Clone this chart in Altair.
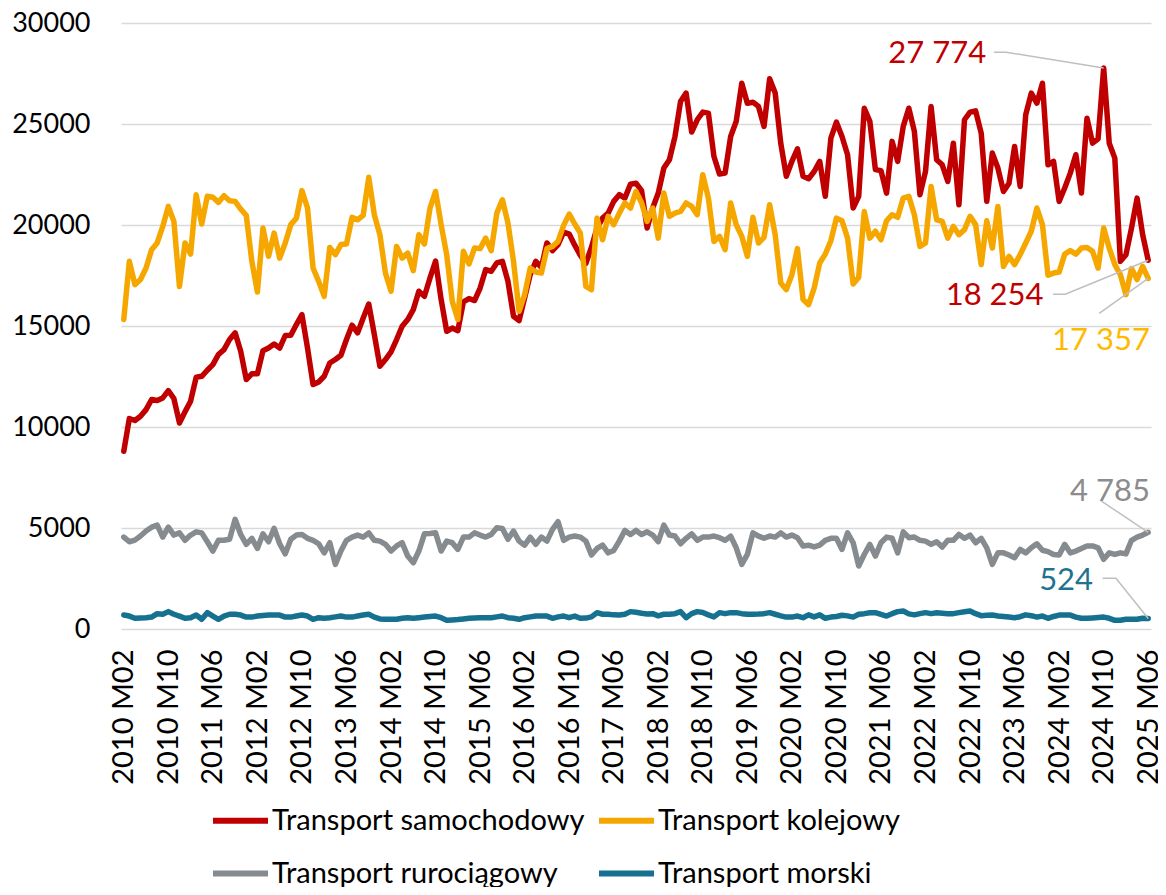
import altair as alt
import pandas as pd

# ---------------- data ----------------
samochodowy = [
    8800, 10420, 10320, 10530, 10860, 11360, 11310, 11440, 11800, 11410,
    10200, 10750, 11280, 12460, 12510, 12810, 13090, 13590, 13830, 14330,
    14660, 13750, 12350, 12630, 12630, 13780, 13910, 14110, 13910, 14530,
    14540, 15070, 15560, 13910, 12100, 12230, 12510, 13170, 13340, 13550,
    14330, 15040, 14660, 15400, 16090, 14580, 13010, 13340, 13720, 14330,
    14990, 15320, 15810, 16720, 16470, 17380, 18210, 16310, 14740, 14900,
    14770, 16200, 16360, 16260, 16880, 17790, 17710, 18120, 18200, 17210,
    15480, 15270, 16390, 17540, 18200, 17900, 19110, 18730, 19030, 19650,
    19550, 19000, 18500, 18100, 18900, 19850, 20340, 20590, 21170, 21500,
    21330, 22020, 22070, 21700, 19850, 20840, 21580, 22820, 23230, 24380,
    26110, 26530, 24600, 25210, 25590, 25540, 23390, 22520, 22570, 24380,
    25130, 27020, 26030, 26080, 25870, 24880, 27240, 26530, 24050, 22410,
    23150, 23770, 22410, 22290, 22650, 23150, 21420, 24300, 25090, 24380,
    23480, 20840, 21420, 25780, 25130, 22740, 22690, 21580, 24140, 23150,
    24880, 25780, 24630, 21500, 22650, 25870, 23230, 22980, 22160, 24050,
    21000, 25210, 25590, 25650, 24550, 21170, 23560, 22820, 21660, 22070,
    23890, 21910, 25460, 26530, 26030, 27020, 22980, 23150, 21170, 21830,
    22570, 23480, 21580, 25290, 24050, 24270, 27774, 24050, 23310, 18200,
    18530, 19850, 21330, 19520, 18254,
]
kolejowy = [
    15320, 18200, 17050, 17300, 17870, 18780, 19110, 19930, 20920, 20180,
    16960, 19110, 18560, 21500, 20050, 21420, 21370, 21120, 21450, 21200,
    21170, 20790, 20480, 18200, 16680, 19850, 18450, 19600, 18360, 19110,
    20020, 20340, 21700, 20840, 17870, 17210, 16470, 18890, 18530, 19030,
    19060, 20380, 20260, 20480, 22360, 20510, 19520, 17620, 16720, 18940,
    18360, 18610, 17740, 19520, 19060, 20840, 21660, 20020, 18530, 16220,
    15320, 18700, 18070, 18860, 18830, 19350, 18730, 20590, 21250, 20100,
    18200, 15730, 16550, 17870, 17670, 17620, 18830, 18940, 19190, 19980,
    20540, 20050, 19600, 16960, 16800, 20340, 19270, 20430, 20020, 20590,
    21090, 20840, 21660, 21100, 20180, 20840, 19350, 21580, 20430, 20590,
    20670, 21090, 20920, 20510, 22490, 21330, 19190, 19440, 18780, 21090,
    20020, 19440, 18450, 20380, 19110, 19390, 21000, 19520, 17130, 16800,
    17540, 18830, 16310, 16060, 16880, 18120, 18560, 19220, 20340, 20210,
    19350, 17080, 17410, 20670, 19350, 19690, 19270, 20210, 20510, 20380,
    21330, 21420, 20510, 18940, 19110, 21910, 20260, 20180, 19350, 19930,
    19520, 19770, 20430, 20020, 18040, 20210, 18860, 20920, 17950, 18450,
    18040, 18530, 19110, 19690, 20840, 20020, 17510, 17620, 17670, 18560,
    18730, 18560, 18860, 18890, 18700, 17870, 19850, 18860, 18040, 17540,
    16550, 17850, 17300, 17950, 17357,
]
rurociagowy = [
    4550, 4320, 4400, 4600, 4850, 5040, 5140, 4550, 5040, 4650,
    4760, 4390, 4650, 4810, 4760, 4320, 3860, 4390, 4390, 4440,
    5430, 4680, 4190, 4490, 3990, 4710, 4320, 4980, 4220, 3720,
    4440, 4650, 4680, 4490, 4390, 4220, 3770, 4270, 3200, 3860,
    4390, 4550, 4650, 4550, 4760, 4390, 4350, 4190, 3860, 4110,
    4270, 3610, 3280, 3860, 4710, 4730, 4760, 3860, 4350, 4270,
    3940, 4550, 4550, 4760, 4650, 4550, 4680, 5010, 4980, 4440,
    4850, 4350, 4150, 4550, 4190, 4550, 4350, 4930, 5310, 4390,
    4550, 4600, 4550, 4350, 3660, 3990, 4150, 3770, 3890, 4350,
    4880, 4680, 4880, 4680, 4810, 4650, 4320, 5140, 4650, 4600,
    4220, 4490, 4710, 4390, 4550, 4550, 4600, 4520, 4390, 4600,
    4020, 3200, 3690, 4760, 4600, 4490, 4600, 4550, 4760, 4550,
    4650, 4520, 4110, 4150, 4060, 4150, 4390, 4490, 4490, 3940,
    4760, 4270, 3120, 3690, 4190, 3610, 4270, 4550, 4490, 3770,
    4810, 4520, 4550, 4390, 4350, 4190, 4320, 4060, 4390, 4390,
    4680, 4490, 4650, 4270, 4490, 4020, 3200, 3770, 3770, 3660,
    3530, 3940, 3770, 4020, 4220, 3900, 3830, 3690, 3660, 4190,
    3770, 3860, 3990, 4110, 4110, 4020, 3450, 3770, 3690, 3770,
    3720, 4390, 4550, 4650, 4785,
]
morski = [
    690, 640, 530, 550, 560, 590, 760, 730, 860, 730,
    640, 530, 560, 690, 480, 810, 640, 480, 640, 730,
    730, 690, 590, 590, 640, 670, 690, 690, 690, 590,
    590, 640, 690, 640, 480, 560, 530, 560, 600, 640,
    590, 590, 640, 690, 730, 590, 500, 480, 480, 480,
    530, 560, 530, 560, 590, 620, 640, 560, 430, 450,
    470, 500, 530, 545, 560, 560, 560, 600, 640, 560,
    530, 480, 560, 600, 640, 640, 640, 530, 600, 640,
    560, 640, 530, 540, 600, 810, 730, 730, 700, 690,
    730, 860, 830, 780, 740, 760, 650, 730, 730, 760,
    860, 560, 760, 860, 820, 700, 600, 810, 760, 810,
    810, 760, 730, 730, 740, 760, 810, 730, 650, 590,
    590, 640, 560, 700, 600, 700, 530, 590, 620, 680,
    650, 590, 730, 760, 800, 810, 720, 640, 760, 860,
    890, 750, 700, 760, 810, 760, 800, 780, 760, 760,
    810, 850, 890, 760, 660, 680, 690, 640, 620, 590,
    560, 610, 700, 660, 590, 640, 530, 620, 690, 690,
    690, 590, 530, 530, 550, 570, 590, 530, 430, 430,
    480, 480, 480, 530, 524,
]

series_names = ["Transport samochodowy", "Transport kolejowy",
                "Transport rurociągowy", "Transport morski"]
series_colors = ["#C00000", "#F5A700", "#858B8E", "#15718F"]
series_values = [samochodowy, kolejowy, rurociagowy, morski]

# months 2010 M02 .. 2025 M06
months = []
y, m = 2010, 2
while (y, m) <= (2025, 6):
    months.append(f"{y} M{m:02d}")
    m += 1
    if m > 12:
        y, m = y + 1, 1

tick_idx = list(range(0, len(months), 8))
tick_labels = [months[i] for i in tick_idx]

# annotations: text, anchor (month index, value), colour
ann_text = ["27 774", "18 254", "17 357", "4 785", "524"]
ann_x = [154.9, 165.2, 184.3, 184.3, 174.1]
ann_y = [28490, 16470, 14245, 6800, 2374]
ann_color = ["#C00000", "#C00000", "#FFB900", "#8C8C8C", "#1F7391"]

# leader lines: id, month index, value
lead_id = [0, 0, 0, 1, 1, 1, 2, 2, 3, 3, 4, 4, 4]
lead_x = [156.3, 158.5, 176, 166.9, 169.1, 184, 175.2, 184, 175.6, 184, 175.8, 178.2, 184]
lead_y = [28550, 28550, 27774, 16570, 16570, 18254, 15630, 17357, 6330, 4785, 2508, 2508, 524]

# ---------------- frames ----------------
rows = []
for name, vals in zip(series_names, series_values):
    for i, v in enumerate(vals):
        rows.append({"idx": i, "month": months[i], "series": name, "value": v})
df = pd.DataFrame(rows)

ann_df = pd.DataFrame({"text": ann_text, "x": ann_x, "y": ann_y, "color": ann_color})
lead_df = pd.DataFrame({"id": lead_id, "x": lead_x, "y": lead_y,
                        "ord": list(range(len(lead_id)))})

FONT = "Lato"
label_expr = "[" + ",".join(f"'{t}'" for t in tick_labels) + "][round(datum.value / 8)]"

x_scale = alt.Scale(domain=[-0.5, len(months) - 0.5], nice=False, zero=False)
y_scale = alt.Scale(domain=[0, 30000], nice=False)

x_enc = alt.X("idx:Q", scale=x_scale,
              axis=alt.Axis(values=tick_idx, labelExpr=label_expr, labelAngle=-90,
                            labelFontSize=29, labelFont=FONT, labelColor="#000000",
                            labelPadding=20, ticks=False, domain=False, grid=False,
                            title=None, labelOverlap=False, labelFlush=False))
y_enc = alt.Y("value:Q", scale=y_scale,
              axis=alt.Axis(values=[0, 5000, 10000, 15000, 20000, 25000, 30000],
                            format="d", labelFontSize=27, labelFont=FONT,
                            labelColor="#000000", labelPadding=31, ticks=False,
                            domain=False, gridColor="#D9D9D9", gridWidth=1.5,
                            title=None))
color_enc = alt.Color("series:N",
                      scale=alt.Scale(domain=series_names, range=series_colors),
                      legend=alt.Legend(orient="none", legendX=89, legendY=767,
                                        direction="horizontal",
                                        columns=2, title=None, symbolType="stroke",
                                        symbolSize=3025, symbolStrokeWidth=6,
                                        labelFont=FONT, labelFontSize=29,
                                        labelColor="#000000", labelOffset=1,
                                        columnPadding=2, rowPadding=7,
                                        labelLimit=500, padding=0))

layers = []
for name in series_names:
    layers.append(
        alt.Chart(df).transform_filter(alt.datum.series == name)
        .mark_line(strokeWidth=5.5, strokeJoin="round", strokeCap="round")
        .encode(x=x_enc, y=y_enc, color=color_enc)
    )

leaders = alt.Chart(lead_df).mark_line(color="#BFBFBF", strokeWidth=1.5).encode(
    x=alt.X("x:Q", scale=x_scale), y=alt.Y("y:Q", scale=y_scale),
    detail="id:N", order="ord:Q")

labels = alt.Chart(ann_df).mark_text(align="right", baseline="middle",
                                     font=FONT, fontSize=31).encode(
    x=alt.X("x:Q", scale=x_scale), y=alt.Y("y:Q", scale=y_scale),
    text="text:N", color=alt.Color("color:N", scale=None))

chart = alt.layer(*layers, leaders, labels).properties(
    width=1030, height=606,
    autosize=alt.AutoSizeParams(type="none"),
    padding={"left": 113, "top": 15, "right": 7, "bottom": 258},
    background="white",
).configure_view(stroke=None)

chart.save("out.html", embed_options={"renderer": "svg", "actions": False})
